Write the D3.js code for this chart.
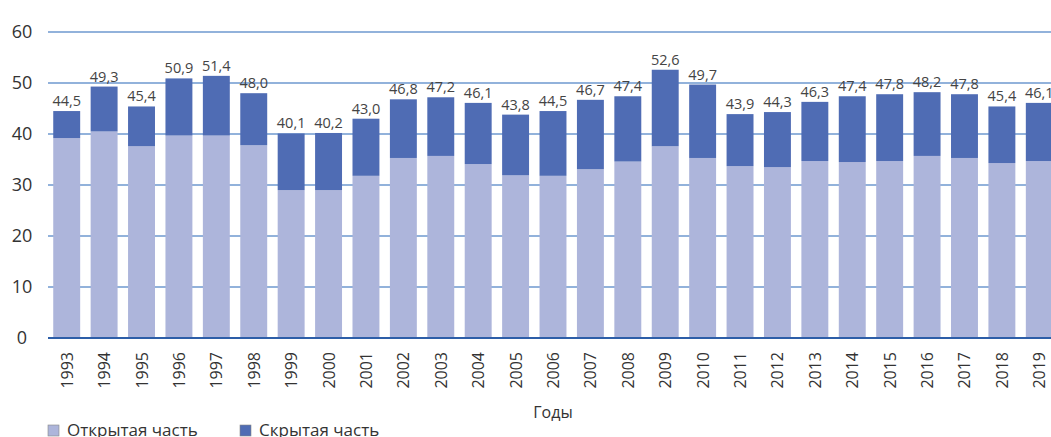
<!DOCTYPE html>
<html>
<head>
<meta charset="utf-8">
<script src="https://cdn.jsdelivr.net/npm/d3@7"></script>
<style>
  body { margin: 0; background: #fff; }
  text { font-family: "Open Sans", "Noto Sans", sans-serif; fill: #333; }
</style>
</head>
<body>
<div id="chart"></div>
<script>
const width = 1051;
const height = 437;

const years = ["1993","1994","1995","1996","1997","1998","1999","2000","2001","2002","2003","2004","2005","2006","2007","2008","2009","2010","2011","2012","2013","2014","2015","2016","2017","2018","2019"];
const totals = [44.5,49.3,45.4,50.9,51.4,48.0,40.1,40.2,43.0,46.8,47.2,46.1,43.8,44.5,46.7,47.4,52.6,49.7,43.9,44.3,46.3,47.4,47.8,48.2,47.8,45.4,46.1];
const openPart = [39.2,40.5,37.6,39.7,39.7,37.8,29.0,29.0,31.8,35.3,35.7,34.1,31.9,31.8,33.1,34.6,37.6,35.3,33.7,33.5,34.7,34.5,34.7,35.7,35.3,34.3,34.7];
const hiddenPart = totals.map((t, i) => +(t - openPart[i]).toFixed(1));
const yTicks = [0, 10, 20, 30, 40, 50, 60];
const seriesNames = ["Открытая часть", "Скрытая часть"];
const colors = ["#adb5db", "#4f6cb4"];

const margin = { top: 32, left: 48, bottom: 99 };

const svg = d3.select("#chart")
  .append("svg")
  .attr("width", width)
  .attr("height", height);

// last band runs past the right edge, as in the source
const x = d3.scaleBand()
  .domain(years)
  .range([margin.left, 1058])
  .paddingInner(0.28)
  .paddingOuter(0.14);

const y = d3.scaleLinear()
  .domain([0, 60])
  .range([height - margin.bottom, margin.top]);

// gridlines
svg.append("g")
  .selectAll("line")
  .data(yTicks.filter(d => d > 0))
  .join("line")
  .attr("x1", margin.left)
  .attr("x2", width)
  .attr("y1", d => y(d))
  .attr("y2", d => y(d))
  .attr("stroke", "#6e98cf")
  .attr("stroke-width", 1.3);

// y labels
svg.append("g")
  .selectAll("text")
  .data(yTicks)
  .join("text")
  .attr("x", 22)
  .attr("y", d => y(d) + 6)
  .attr("text-anchor", "middle")
  .style("font-size", "18px")
  .text(d => d);

const rows = years.map((yr, i) => ({ year: yr, open: openPart[i], hidden: hiddenPart[i], total: totals[i] }));
const stack = d3.stack().keys(["open", "hidden"])(rows);

svg.append("g")
  .selectAll("g")
  .data(stack)
  .join("g")
  .attr("fill", (d, i) => colors[i])
  .selectAll("rect")
  .data(d => d)
  .join("rect")
  .attr("x", d => x(d.data.year))
  .attr("width", x.bandwidth())
  .attr("y", d => y(d[1]))
  .attr("height", d => y(d[0]) - y(d[1]));

// baseline
svg.append("line")
  .attr("x1", margin.left)
  .attr("x2", width)
  .attr("y1", y(0))
  .attr("y2", y(0))
  .attr("stroke", "#2d5ea8")
  .attr("stroke-width", 2);

// value labels
svg.append("g")
  .selectAll("text")
  .data(rows)
  .join("text")
  .attr("x", d => x(d.year) + x.bandwidth() / 2)
  .attr("y", d => y(d.total) - 5)
  .attr("text-anchor", "middle")
  .style("font-size", "14.5px")
  .style("fill", "#444")
  .text(d => d3.format(".1f")(d.total).replace(".", ","));

// x labels
svg.append("g")
  .selectAll("text")
  .data(years)
  .join("text")
  .attr("transform", d => `translate(${x(d) + x.bandwidth() / 2 + 6},${y(0) + 14}) rotate(-90)`)
  .attr("text-anchor", "end")
  .style("font-size", "16px")
  .text(d => d);

svg.append("text")
  .attr("x", 553)
  .attr("y", 418)
  .attr("text-anchor", "middle")
  .style("font-size", "16px")
  .text("Годы");

// legend
const legend = svg.append("g")
  .selectAll("g")
  .data(seriesNames)
  .join("g")
  .attr("transform", (d, i) => `translate(${48 + i * 192},425)`);

legend.append("rect")
  .attr("width", 11)
  .attr("height", 11)
  .attr("fill", (d, i) => colors[i])
  .attr("stroke", "#888")
  .attr("stroke-width", 0.6);

legend.append("text")
  .attr("x", 19)
  .attr("y", 11)
  .style("font-size", "17px")
  .text(d => d);
</script>
</body>
</html>
